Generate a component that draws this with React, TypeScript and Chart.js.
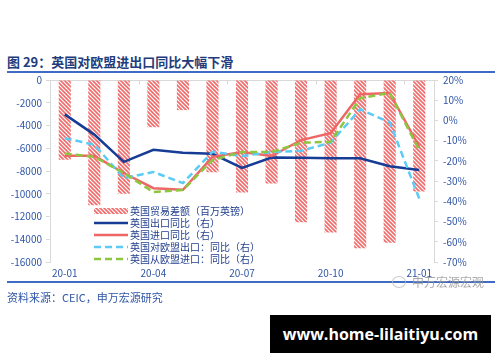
import React, { useEffect, useRef } from 'react';
import { Chart, registerables } from 'chart.js';
Chart.register(...registerables);

const categories = ['20-01', '20-02', '20-03', '20-04', '20-05', '20-06', '20-07', '20-08', '20-09', '20-10', '20-11', '20-12', '21-01'];
const tradeBalance = [-7000, -11000, -10000, -4150, -2650, -8100, -9900, -9100, -12500, -13400, -14800, -14300, -9800];
const exportYoY = [3, -7, -20.5, -14.5, -16, -16.5, -23.5, -18.3, -18.4, -18.7, -18.7, -22.6, -24.5];
const importYoY = [-17.5, -17.5, -26, -33.5, -34.3, -18, -15.6, -17.6, -9.7, -6.3, 13, 13.6, -13];
const euExportYoY = [-8.8, -12, -28.5, -25.5, -31, -15.5, -17.6, -15.6, -15, -11, 5.5, -1, -38.6];
const euImportYoY = [-16.3, -18, -26, -35.4, -34.4, -19.6, -15.6, -15.6, -11, -10.6, 11, 13.6, -14.7];
const seriesLabels = ['英国贸易差额（百万英镑）', '英国出口同比（右）', '英国进口同比（右）', '英国对欧盟出口：同比（右）', '英国从欧盟进口：同比（右）'];

const FONT = '"Noto Sans CJK SC", "Noto Sans", sans-serif';
const TICK_COLOR = '#2F55A6';
const LEGEND_COLOR = '#23408E';
const AXIS_GRAY = '#D9D9D9';

function makeHatch(): CanvasPattern | string {
  const c = document.createElement('canvas');
  c.width = 4;
  c.height = 4;
  const g = c.getContext('2d');
  if (!g) return '#F06A6A';
  g.strokeStyle = '#F06A6A';
  g.lineWidth = 1.6;
  g.beginPath();
  for (const k of [-1, 0, 1]) {
    g.moveTo(k * 4 - 1, -1);
    g.lineTo(k * 4 + 5, 5);
  }
  g.stroke();
  return g.createPattern(c, 'repeat') || '#F06A6A';
}

const topLinePlugin = {
  id: 'topLine',
  beforeDatasetsDraw(chart: any) {
    const { ctx, chartArea, scales } = chart;
    const y = Math.round(scales.y.getPixelForValue(0)) + 0.5;
    ctx.save();
    ctx.strokeStyle = AXIS_GRAY;
    ctx.lineWidth = 1;
    ctx.beginPath();
    ctx.moveTo(chartArea.left, y);
    ctx.lineTo(chartArea.right, y);
    const half = (scales.x.getPixelForValue(1) - scales.x.getPixelForValue(0)) / 2;
    for (let i = 0; i < categories.length; i += 3) {
      const x = Math.round(scales.x.getPixelForValue(i) - half) + 0.5;
      ctx.moveTo(x, y);
      ctx.lineTo(x, y + 4);
    }
    ctx.stroke();
    ctx.restore();
  },
};

const legendPlugin = {
  id: 'customLegend',
  afterDraw(chart: any) {
    const { ctx, chartArea } = chart;
    const x0 = chartArea.left + 44;
    const y0 = chartArea.top + 131;
    ctx.save();
    ctx.font = `10px ${FONT}`;
    ctx.textBaseline = 'middle';
    chart.data.datasets.forEach((ds: any, i: number) => {
      const y = y0 + i * 12;
      if (ds.type === 'bar') {
        ctx.fillStyle = ds.backgroundColor;
        ctx.fillRect(x0, y - 3, 34, 6);
      } else {
        ctx.strokeStyle = ds.borderColor;
        ctx.lineWidth = ds.borderWidth;
        ctx.setLineDash(ds.borderDash || []);
        ctx.beginPath();
        ctx.moveTo(x0, y);
        ctx.lineTo(x0 + 34, y);
        ctx.stroke();
        ctx.setLineDash([]);
      }
      ctx.fillStyle = LEGEND_COLOR;
      ctx.fillText(ds.label, x0 + 36, y + 0.5);
    });
    ctx.restore();
  },
};

export default function App() {
  const ref = useRef<HTMLCanvasElement | null>(null);

  useEffect(() => {
    if (!ref.current) return;
    const hatch = makeHatch();
    const chart = new Chart(ref.current, {
      type: 'bar',
      data: {
        labels: categories,
        datasets: [
          {
            type: 'bar',
            label: seriesLabels[0],
            data: tradeBalance,
            backgroundColor: hatch as any,
            borderWidth: 0,
            yAxisID: 'y',
            barPercentage: 0.41,
            categoryPercentage: 1,
            order: 10,
          },
          {
            type: 'line',
            label: seriesLabels[1],
            data: exportYoY,
            borderColor: '#173C96',
            borderWidth: 2.5,
            pointRadius: 0,
            tension: 0,
            yAxisID: 'y1',
            order: 4,
          },
          {
            type: 'line',
            label: seriesLabels[2],
            data: importYoY,
            borderColor: '#EE6666',
            borderWidth: 2.5,
            pointRadius: 0,
            tension: 0,
            yAxisID: 'y1',
            order: 3,
          },
          {
            type: 'line',
            label: seriesLabels[3],
            data: euExportYoY,
            borderColor: '#5CCBF5',
            borderWidth: 2.5,
            borderDash: [7, 4],
            pointRadius: 0,
            tension: 0,
            yAxisID: 'y1',
            order: 2,
          },
          {
            type: 'line',
            label: seriesLabels[4],
            data: euImportYoY,
            borderColor: '#8DC63F',
            borderWidth: 2.5,
            borderDash: [7, 4],
            pointRadius: 0,
            tension: 0,
            yAxisID: 'y1',
            order: 1,
          },
        ] as any,
      },
      options: {
        responsive: false,
        animation: false,
        layout: { padding: { top: 80, left: 0, right: 0, bottom: 0 } },
        plugins: { legend: { display: false }, tooltip: { enabled: false }, title: { display: false } },
        scales: {
          x: {
            offset: true,
            grid: { display: false, drawTicks: false },
            border: { display: false },
            ticks: {
              autoSkip: false,
              maxRotation: 0,
              padding: 5,
              color: TICK_COLOR,
              font: { family: FONT, size: 10 },
              callback: (_v: any, idx: number) => (idx % 3 === 0 ? categories[idx] : ''),
            },
            afterFit: (s: any) => {
              s.height = 100;
            },
          },
          y: {
            position: 'left',
            min: -16000,
            max: 0,
            grid: { drawOnChartArea: false, drawTicks: true, tickLength: 4, color: AXIS_GRAY },
            border: { display: true, color: AXIS_GRAY },
            ticks: {
              stepSize: 2000,
              padding: 4,
              color: TICK_COLOR,
              font: { family: FONT, size: 10 },
              callback: (v: any) => String(v),
            },
            afterFit: (s: any) => {
              s.width = 50;
            },
          },
          y1: {
            position: 'right',
            min: -70,
            max: 20,
            grid: { drawOnChartArea: false, drawTicks: true, tickLength: 4, color: AXIS_GRAY },
            border: { display: true, color: AXIS_GRAY },
            ticks: {
              stepSize: 10,
              padding: 5,
              color: TICK_COLOR,
              font: { family: FONT, size: 10 },
              callback: (v: any) => `${v}%`,
            },
            afterFit: (s: any) => {
              s.width = 66;
            },
          },
        },
      } as any,
      plugins: [topLinePlugin, legendPlugin],
    });
    return () => chart.destroy();
  }, []);

  return (
    <div style={{ position: 'fixed', left: 0, top: 0, width: 500, height: 362, background: '#fff', overflow: 'hidden', fontFamily: FONT }}>
      <div style={{ position: 'absolute', left: 7, top: 53, fontSize: 13, fontWeight: 700, color: '#1F3D7C', whiteSpace: 'nowrap', lineHeight: '18px' }}>
        图 29：英国对欧盟进出口同比大幅下滑
      </div>
      <div style={{ position: 'absolute', left: 7, top: 71, width: 488, height: 2, background: '#3F6BC4' }} />
      <canvas ref={ref} width={500} height={362} style={{ position: 'absolute', left: 0, top: 0, width: 500, height: 362 }} />
      <div style={{ position: 'absolute', left: 7, top: 281, width: 488, height: 2, background: '#3F6BC4' }} />
      <div style={{ position: 'absolute', left: 392, top: 276, width: 12, height: 10, borderRadius: '50%', border: '1px solid #bbb', opacity: 0.8 }} />
      <div style={{ position: 'absolute', left: 412, top: 274, fontSize: 12, color: '#9a9a9a', whiteSpace: 'nowrap', lineHeight: '16px', opacity: 0.85 }}>
        申万宏源宏观
      </div>
      <div style={{ position: 'absolute', left: 7, top: 289, fontSize: 11, color: '#2F55A6', whiteSpace: 'nowrap', lineHeight: '16px' }}>
        资料来源：CEIC，申万宏源研究
      </div>
      <div style={{ position: 'absolute', left: 270, top: 315, width: 221, height: 38, background: '#000', color: '#fff', display: 'flex', alignItems: 'center', justifyContent: 'center', fontFamily: '"Open Sans", "Noto Sans", sans-serif', fontWeight: 700, fontSize: 16, whiteSpace: 'nowrap' }}>
        www.home-lilaitiyu.com
      </div>
    </div>
  );
}
